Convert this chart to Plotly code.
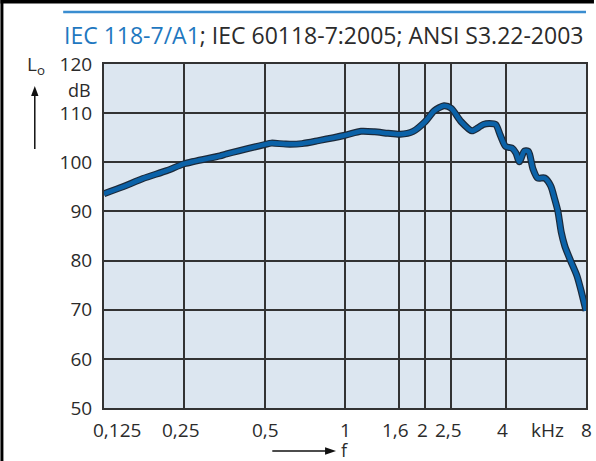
import math
import plotly.graph_objects as go

# ---- data ----
freq_khz = [0.125, 0.147, 0.175, 0.215, 0.25, 0.34, 0.36, 0.5, 0.53, 0.60, 0.69, 0.795,
            1.0, 1.15, 1.29, 1.45, 1.61, 1.80, 2.0, 2.16, 2.35, 2.5, 2.72, 2.99,
            3.17, 3.3, 3.47, 3.67, 3.82, 4.0, 4.22, 4.37, 4.5, 4.70, 4.87, 5.06,
            5.27, 5.6, 5.9, 6.1, 6.28, 6.46, 6.66, 7.0, 7.4, 7.7, 8.0]
level_db = [93.6, 95.0, 96.7, 98.3, 99.7, 101.3, 101.7, 103.6, 103.9, 103.7, 103.8, 104.4,
            105.5, 106.3, 106.2, 105.9, 105.7, 106.3, 108.3, 110.5, 111.5, 111.0, 108.3, 106.4,
            107.1, 107.7, 107.9, 107.7, 105.5, 103.2, 102.9, 101.9, 100.1, 102.3, 102.2, 98.7,
            96.8, 96.8, 95.2, 92.6, 90.0, 85.8, 83.0, 80.0, 76.9, 73.5, 69.8]

grid_freqs = [0.125, 0.25, 0.5, 1, 1.6, 2, 2.5, 4, 8]
x_tick_labels = ["0,125", "0,25", "0,5", "1", "1,6", "2", "2,5", "4", "8"]
y_ticks = [50, 60, 70, 80, 90, 100, 110, 120]
y_tick_labels = [str(v) for v in y_ticks]
title_blue = "IEC 118-7/A1"
title_rest = "; IEC 60118-7:2005; ANSI S3.22-2003"

# ---- layout helpers (pixel -> paper) ----
W, H = 596, 461
L, R, T, B = 104, 8, 64, 53
PW, PH = W - L - R, H - T - B


def xp(px):
    return (px - L) / PW


def yp(py):
    return (H - B - py) / PH


FONT = "Open Sans"
TXT = "#2b2b2b"

fig = go.Figure()
fig.add_trace(go.Scatter(x=freq_khz, y=level_db, mode="lines",
                         line=dict(color="#1c2a3a", width=7, shape="spline", smoothing=0.7),
                         hoverinfo="skip", showlegend=False))
fig.add_trace(go.Scatter(x=freq_khz, y=level_db, mode="lines",
                         line=dict(color="#0b62a8", width=4.6, shape="spline", smoothing=0.7),
                         showlegend=False))

label_shift = [13, -3, 1, 0, -4, -3, -3, -3, 0]
annotations = []
for f, lab, s in zip(grid_freqs, x_tick_labels, label_shift):
    annotations.append(dict(x=math.log10(f), xref="x", y=yp(430), yref="paper", text=lab,
                            showarrow=False, xshift=s, xanchor="center", yanchor="middle",
                            font=dict(family=FONT, size=19, color=TXT)))
annotations += [
    dict(x=xp(549), y=yp(430), xref="paper", yref="paper", text="kHz", showarrow=False,
         font=dict(family=FONT, size=19, color=TXT), xanchor="center", yanchor="middle"),
    dict(x=xp(93), y=yp(90), xref="paper", yref="paper", text="dB", showarrow=False,
         font=dict(family=FONT, size=18, color=TXT), xanchor="right", yanchor="middle"),
    dict(x=xp(36), y=yp(65), xref="paper", yref="paper", text="L<sub>o</sub>", showarrow=False,
         font=dict(family=FONT, size=19, color=TXT), xanchor="center", yanchor="middle"),
    dict(x=xp(345), y=yp(450), xref="paper", yref="paper", text="f", showarrow=False,
         font=dict(family=FONT, size=18, color=TXT), xanchor="center", yanchor="middle"),
    dict(x=xp(62), y=yp(35), xref="paper", yref="paper",
         text=f"<span style='color:#1f78c0'>{title_blue}</span>{title_rest}",
         showarrow=False, xanchor="left", yanchor="middle",
         font=dict(family=FONT, size=23, color=TXT)),
]


def tri(pts):
    return "M " + " L ".join(f"{xp(a)} {yp(b)}" for a, b in pts) + " Z"


shapes = [
    dict(type="line", xref="paper", yref="paper", x0=xp(63), x1=xp(588), y0=yp(12), y1=yp(12),
         line=dict(color="#3a8dd0", width=2.5)),
    dict(type="rect", xref="paper", yref="paper", x0=xp(0), x1=xp(W), y0=yp(0), y1=yp(3.5),
         fillcolor="#000", line=dict(width=0)),
    dict(type="rect", xref="paper", yref="paper", x0=xp(0), x1=xp(3), y0=yp(0), y1=yp(H),
         fillcolor="#000", line=dict(width=0)),
    # vertical arrow (level)
    dict(type="line", xref="paper", yref="paper", x0=xp(34.5), x1=xp(34.5), y0=yp(94), y1=yp(149),
         line=dict(color="#111", width=1.5)),
    dict(type="path", xref="paper", yref="paper", path=tri([(34.5, 86), (30.8, 96), (38.2, 96)]),
         fillcolor="#111", line=dict(width=0)),
    # horizontal arrow (frequency)
    dict(type="line", xref="paper", yref="paper", x0=xp(273), x1=xp(328), y0=yp(451), y1=yp(451),
         line=dict(color="#111", width=1.5)),
    dict(type="path", xref="paper", yref="paper", path=tri([(337, 451), (326, 447.3), (326, 454.7)]),
         fillcolor="#111", line=dict(width=0)),
]

fig.update_layout(
    width=W, height=H, margin=dict(l=L, r=R, t=T, b=B),
    paper_bgcolor="white", plot_bgcolor="#dce6f0",
    annotations=annotations, shapes=shapes,
    xaxis=dict(type="log", range=[math.log10(0.125), math.log10(8)], tickvals=grid_freqs,
               showticklabels=False, ticks="", showgrid=True, gridcolor="#333", gridwidth=2,
               showline=True, linecolor="#333", linewidth=2, mirror=True, zeroline=False),
    yaxis=dict(range=[50, 120], tickvals=y_ticks, ticktext=y_tick_labels, ticks="",
               ticklabelstandoff=6,
               tickfont=dict(family=FONT, size=19, color=TXT),
               showgrid=True, gridcolor="#333", gridwidth=2,
               showline=True, linecolor="#333", linewidth=2, mirror=True, zeroline=False),
)

fig.write_html("out.html", config={"displayModeBar": False},
               post_script="document.body.style.margin='0';")
